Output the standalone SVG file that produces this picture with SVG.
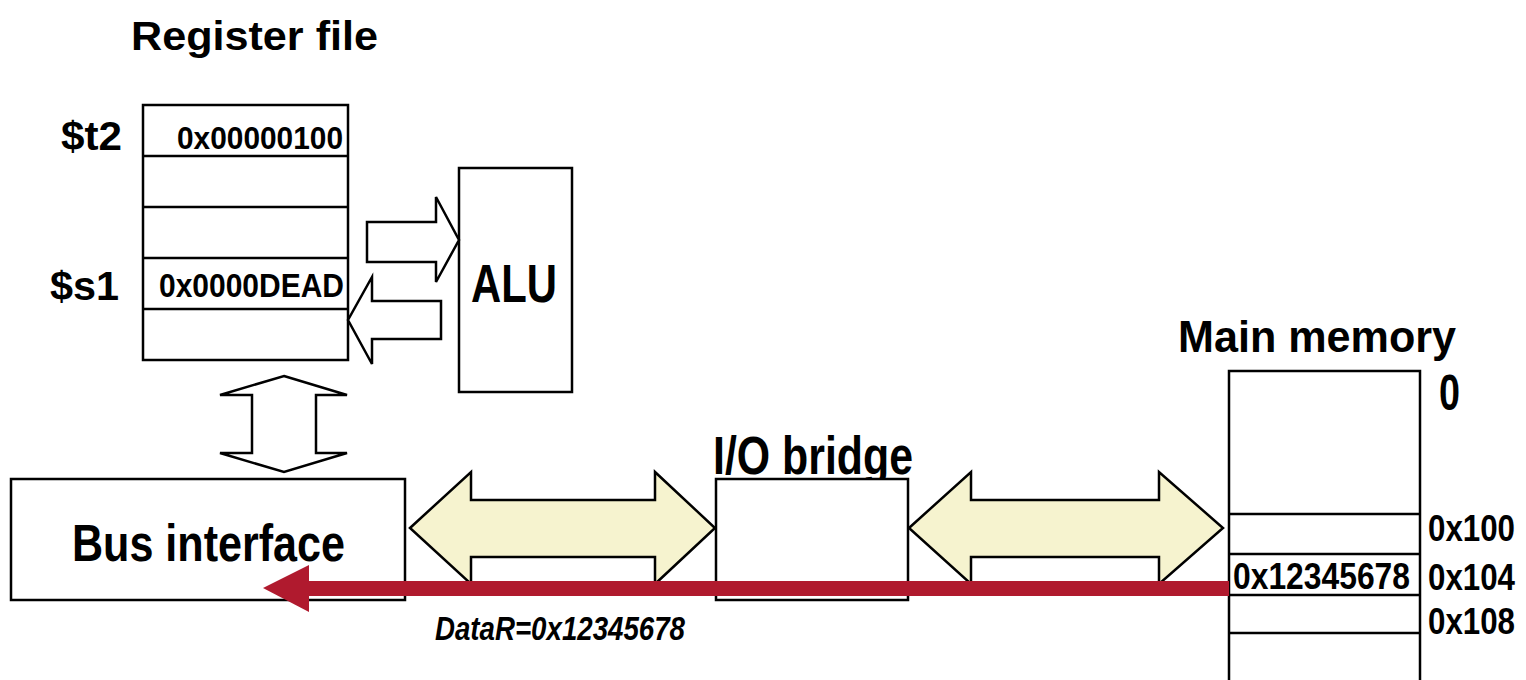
<svg xmlns="http://www.w3.org/2000/svg" width="1526" height="680" viewBox="0 0 1526 680">
  <style>
    .box { fill: #ffffff; stroke: #000000; stroke-width: 2.5; }
    .row { fill: none; stroke: #000000; stroke-width: 2.5; }
    .hollow { fill: #ffffff; stroke: #000000; stroke-width: 2.5; stroke-linejoin: miter; }
    .bus { fill: #F6F3CF; stroke: #000000; stroke-width: 2.5; stroke-linejoin: miter; }
    .lbl { font-family: "Liberation Sans Narrow", "Liberation Sans", Arial, sans-serif; font-weight: bold; fill: #000000; }
    .data { fill: #B01A2E; }
  </style>
  <rect width="1526" height="680" fill="#ffffff"/>

  <!-- Register file -->
  <g id="register-file">
    <text class="lbl" x="131" y="50" font-size="41" textLength="247" lengthAdjust="spacingAndGlyphs">Register file</text>
    <rect class="box" x="143" y="105" width="205" height="255"/>
    <line class="row" x1="143" y1="156" x2="348" y2="156"/>
    <line class="row" x1="143" y1="207" x2="348" y2="207"/>
    <line class="row" x1="143" y1="258" x2="348" y2="258"/>
    <line class="row" x1="143" y1="309" x2="348" y2="309"/>
    <text class="lbl" x="61" y="150" font-size="40" textLength="61" lengthAdjust="spacingAndGlyphs">$t2</text>
    <text class="lbl" x="50" y="300" font-size="40" textLength="69" lengthAdjust="spacingAndGlyphs">$s1</text>
    <text class="lbl" x="177" y="149" font-size="32" textLength="166" lengthAdjust="spacingAndGlyphs">0x00000100</text>
    <text class="lbl" x="159" y="297" font-size="34" textLength="185" lengthAdjust="spacingAndGlyphs">0x0000DEAD</text>
  </g>

  <!-- ALU -->
  <g id="alu">
    <rect class="box" x="459" y="168" width="113" height="224"/>
    <text class="lbl" x="471" y="302" font-size="53" textLength="86" lengthAdjust="spacingAndGlyphs">ALU</text>
  </g>

  <!-- Bus interface -->
  <g id="bus-interface">
    <rect class="box" x="11" y="479" width="394" height="121"/>
    <text class="lbl" x="72" y="561" font-size="52" textLength="273" lengthAdjust="spacingAndGlyphs">Bus interface</text>
  </g>

  <!-- I/O bridge -->
  <g id="io-bridge">
    <text class="lbl" x="713" y="474" font-size="53" textLength="200" lengthAdjust="spacingAndGlyphs">I/O bridge</text>
    <rect class="box" x="716" y="479" width="192" height="121"/>
  </g>

  <!-- Main memory -->
  <g id="main-memory">
    <text class="lbl" x="1178" y="352" font-size="44" textLength="278" lengthAdjust="spacingAndGlyphs">Main memory</text>
    <rect class="box" x="1229" y="371" width="191" height="320"/>
    <line class="row" x1="1229" y1="514" x2="1420" y2="514"/>
    <line class="row" x1="1229" y1="554" x2="1420" y2="554"/>
    <line class="row" x1="1229" y1="595" x2="1420" y2="595"/>
    <line class="row" x1="1229" y1="633" x2="1420" y2="633"/>
    <text class="lbl" x="1439" y="410" font-size="50" textLength="21" lengthAdjust="spacingAndGlyphs">0</text>
    <text class="lbl" x="1428" y="541" font-size="36" textLength="87" lengthAdjust="spacingAndGlyphs">0x100</text>
    <text class="lbl" x="1428" y="590" font-size="36" textLength="87" lengthAdjust="spacingAndGlyphs">0x104</text>
    <text class="lbl" x="1428" y="634" font-size="36" textLength="87" lengthAdjust="spacingAndGlyphs">0x108</text>
    <text class="lbl" x="1233" y="589" font-size="36" textLength="177" lengthAdjust="spacingAndGlyphs">0x12345678</text>
  </g>

  <!-- Connectors -->
  <g id="connectors">
    <!-- register file to ALU -->
    <polygon class="hollow" points="367,222 436,222 436,197 459,240 436,282 436,262 367,262"/>
    <!-- ALU back to register file -->
    <polygon class="hollow" points="441,301 372,301 372,277 348,320 372,364 372,339 441,339"/>
    <!-- register file to bus interface -->
    <polygon class="hollow" points="284,376 347,395 316,395 316,453 347,453 284,472 220,453 252,453 252,395 220,395"/>
    <!-- system bus -->
    <polygon class="bus" points="410,528 471,472 471,500 655,500 655,472 715,528 655,584 655,557 471,557 471,584"/>
    <!-- memory bus -->
    <polygon class="bus" points="909,528 971,472 971,500 1159,500 1159,472 1223,528 1159,584 1159,557 971,557 971,584"/>
    <!-- data transfer from memory -->
    <rect class="data" x="305" y="581" width="924" height="15"/>
    <polygon class="data" points="263,588 309,565 309,612"/>
    <text class="lbl" x="435" y="640" font-size="33" font-style="italic" textLength="250" lengthAdjust="spacingAndGlyphs">DataR=0x12345678</text>
  </g>
</svg>
